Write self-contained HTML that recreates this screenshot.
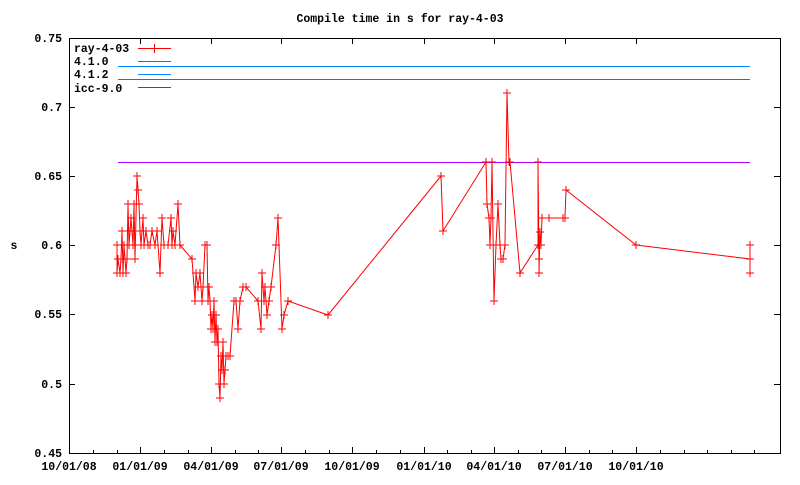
<!DOCTYPE html>
<html><head><meta charset="utf-8"><style>
body{margin:0;background:#fff;}
svg text{font-family:"Liberation Mono",monospace;font-size:11.5px;font-weight:bold;fill:#000;}
</style></head><body>
<svg width="800" height="480" viewBox="0 0 800 480" xmlns="http://www.w3.org/2000/svg">
<defs>
<marker id="c" markerUnits="userSpaceOnUse" markerWidth="10" markerHeight="10" refX="5" refY="5" overflow="visible">
<path d="M1 5H9M5 1V9" stroke="#f00" stroke-width="1" fill="none"/>
</marker>
</defs>
<rect width="800" height="480" fill="#fff"/>
<text x="400" y="22" text-anchor="middle">Compile time in s for ray-4-03</text>
<text x="14" y="249" text-anchor="middle">s</text>
<g stroke="#000" stroke-width="1" fill="none">
<rect x="69.5" y="38.5" width="711" height="415"/>
<path d="M69 107.5h6M780 107.5h-6M69 176.5h6M780 176.5h-6M69 245.5h6M780 245.5h-6M69 314.5h6M780 314.5h-6M69 384.5h6M780 384.5h-6"/>
<path d="M140.5 453v-6M211.5 453v-6M281.5 453v-6M352.5 453v-6M424.5 453v-6M494.5 453v-6M565.5 453v-6M636.5 453v-6M140.5 38v6M211.5 38v6M281.5 38v6M352.5 38v6M424.5 38v6M494.5 38v6M565.5 38v6M636.5 38v6"/>
<path d="M93.5 453v-3M117.5 453v-3M164.5 453v-3M188.5 453v-3M235.5 453v-3M258.5 453v-3M305.5 453v-3M329.5 453v-3M376.5 453v-3M400.5 453v-3M447.5 453v-3M471.5 453v-3M518.5 453v-3M541.5 453v-3M589.5 453v-3M612.5 453v-3M660.5 453v-3M684.5 453v-3M707.5 453v-3M731.5 453v-3M754.5 453v-3"/>
</g>
<g text-anchor="end">
<text x="62" y="42">0.75</text><text x="62" y="111">0.7</text><text x="62" y="180">0.65</text>
<text x="62" y="249">0.6</text><text x="62" y="318">0.55</text><text x="62" y="388">0.5</text><text x="62" y="457">0.45</text>
</g>
<g text-anchor="middle">
<text x="69" y="470">10/01/08</text><text x="140" y="470">01/01/09</text><text x="211" y="470">04/01/09</text>
<text x="281" y="470">07/01/09</text><text x="352" y="470">10/01/09</text><text x="424" y="470">01/01/10</text>
<text x="494" y="470">04/01/10</text><text x="565" y="470">07/01/10</text><text x="636" y="470">10/01/10</text>
</g>
<text x="74" y="52">ray-4-03</text><text x="74" y="65">4.1.0</text><text x="74" y="78">4.1.2</text><text x="74" y="92">icc-9.0</text>
<path d="M138 48.5h33M154.5 44v9" stroke="#f00"/>
<path d="M138 61.5h33" stroke="#0a0"/>
<path d="M138 74.5h33" stroke="#08f"/>
<path d="M138 87.5h33" stroke="#a0f"/>
<path d="M118 66.5H750" stroke="#08f"/>
<path d="M118 79.5H750" stroke="#0a0"/>
<path d="M118 162.5H750" stroke="#a0f"/>
<polyline fill="none" stroke="#f00" stroke-width="1" marker-start="url(#c)" marker-mid="url(#c)" marker-end="url(#c)" points="117,245 117,273 118,259 120,273 121,259 122,231 123,273 124,245 126,273 127,259 128,204 129,245 130,231 131,218 133,245 134,204 135,259 137,176 138,190 139,204 140,231 141,245 143,218 144,245 146,231 148,245 150,245 152,231 155,245 157,231 160,273 162,218 164,245 168,245 171,218 172,245 173,231 175,245 178,204 180,245 192,259 195,301 196,273 198,287 200,273 202,301 203,287 205,245 207,245 208,301 209,287 210,301 211,329 212,315 213,329 214,301 215,342 216,315 217,342 218,329 219,384 220,398 221,356 222,370 223,342 224,384 225,370 226,356 228,356 230,356 234,301 236,301 238,329 240,301 243,287 246,287 258,301 261,329 262,273 264,301 265,287 267,315 269,301 271,287 276,245 278,218 282,329 284,315 288,301 328,315 441,176 443,231 486,162 487,204 489,218 490,245 491,218 492,162 494,301 496,245 498,204 500,245 501,259 503,259 505,245 507,93 509,162 510,162 520,273 538,245 538,162 539,259 539,273 540,232 541,245 542,218 549,218 563,218 565,218 566,190 636,245 750,259 750,273 750,245"/>
</svg>
</body></html>
